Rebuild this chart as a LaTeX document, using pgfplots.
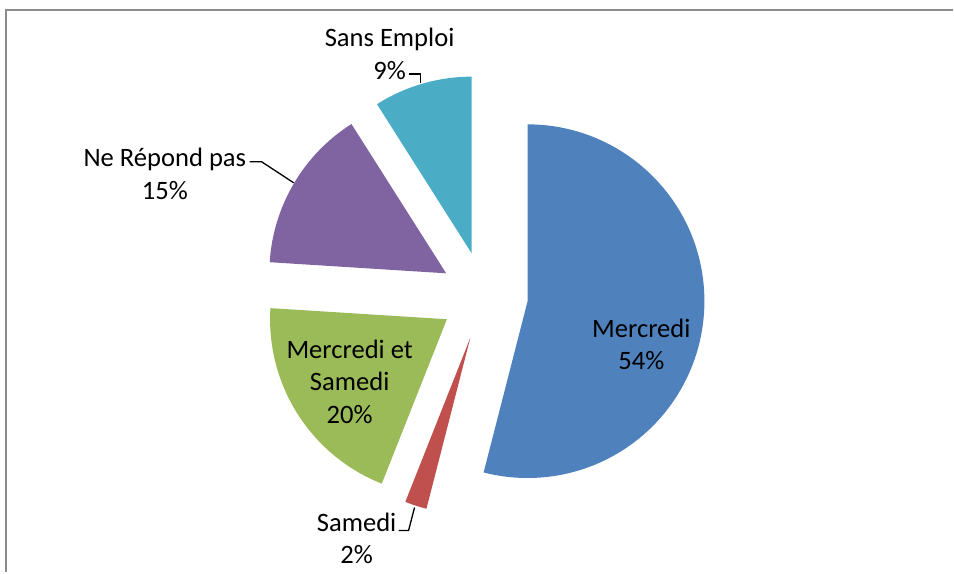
\documentclass[border=0pt]{standalone}
\usepackage{pgfplots}
\pgfplotsset{compat=1.18}
\usepackage{fontspec}
\setmainfont{Carlito}
\definecolor{c1}{HTML}{4F81BD}
\definecolor{c2}{HTML}{C0504D}
\definecolor{c3}{HTML}{9BBB59}
\definecolor{c4}{HTML}{8064A2}
\definecolor{c5}{HTML}{4BACC6}
\begin{document}
\begin{tikzpicture}
\begin{axis}[
  x=1bp, y=1bp, xmin=0, xmax=954, ymin=0, ymax=573,
  hide axis, clip=false, scale only axis,
]
\path (axis cs:0,0) rectangle (axis cs:954,573);
\draw[color=black!45, line width=2bp] (axis cs:6,0) -- (axis cs:6,563) -- (axis cs:954,563);
% pie data: percentage / colour
\xdef\cum{0}
\foreach \v/\col in {54/c1, 2/c2, 20/c3, 15/c4, 9/c5}{
  \pgfmathsetmacro\sa{90-3.6*\cum}
  \pgfmathsetmacro\ea{90-3.6*(\cum+\v)}
  \pgfmathsetmacro\ma{(\sa+\ea)/2}
  \pgfmathsetmacro\cx{484.5+44*cos(\ma)}
  \pgfmathsetmacro\cy{277+44*sin(\ma)}
  \edef\temp{\noexpand\fill[\col] (axis cs:\cx,\cy) -- ++(\sa:177bp) arc[start angle=\sa, end angle=\ea, radius=177bp] -- cycle;}
  \temp
  \pgfmathsetmacro\newcum{\cum+\v}
  \xdef\cum{\newcum}
}
\tikzset{lab/.style={align=center, font=\fontsize{26.6bp}{32.5bp}\selectfont, inner sep=0pt}}
\node[lab] at (axis cs:642,228) {Mercredi\\54\%};
\node[lab] at (axis cs:350,191) {Mercredi et\\Samedi\\20\%};
\node[lab] at (axis cs:390,519) {Sans Emploi\\9\%};
\node[lab] at (axis cs:165,399) {Ne Répond pas\\15\%};
\node[lab] at (axis cs:357,34) {Samedi\\2\%};
\draw[black, line width=1.3bp] (axis cs:409,499) -- (axis cs:421,499) -- (axis cs:421,490);
\draw[black, line width=1.3bp] (axis cs:399,42) -- (axis cs:409,42) -- (axis cs:415,65);
\draw[black, line width=1.3bp] (axis cs:250,411) -- (axis cs:262,411) -- (axis cs:294,390);
\end{axis}
\end{tikzpicture}
\end{document}
